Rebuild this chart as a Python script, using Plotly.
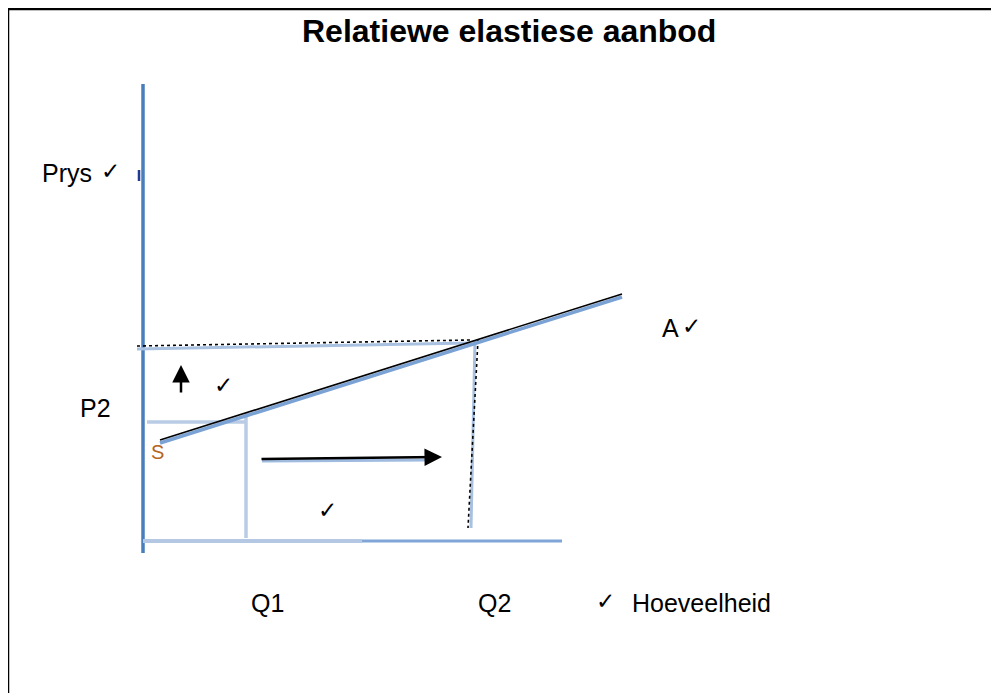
import plotly.graph_objects as go

# Diagram data, in figure-pixel-like units (x to the right, y downward)
supply_x = [160, 622]
supply_y = [440, 294]
p1_line_x = [137, 470]
p1_line_y = [346, 340]
q2_line_x = [478, 468]
q2_line_y = [340, 528]
q1_line_x = [246, 246]
q1_line_y = [413, 538]
p2_line_x = [147, 245]
p2_line_y = [422, 422]
yaxis_x = [143, 143]
yaxis_y = [84, 553]
xaxis_x = [143, 562]
xaxis_y = [541, 541]

labels = ["Prys", "✓", "P2", "S", "A", "✓", "Q1", "Q2", "✓", "Hoeveelheid", "✓", "✓"]
label_x = [40, 99, 78, 149, 660, 680, 249, 476, 594, 630, 212, 316]
label_y = [173, 171, 408, 452, 328, 326, 603, 603, 601, 603, 385, 510]
title = "Relatiewe elastiese aanbod"

BLUE = "#4a7ebb"
LIGHT = "#a9c1e0"
FONT = "Liberation Sans, Arial, DejaVu Sans"
OFF = 8  # page body margin in the browser

fig = go.Figure()

def line(x, y, color, width, dash="solid", dy=0):
    fig.add_trace(go.Scatter(x=x, y=[v + dy for v in y], mode="lines",
                             line=dict(color=color, width=width, dash=dash),
                             hoverinfo="skip", showlegend=False))

# axes
line(yaxis_x, yaxis_y, BLUE, 3.5)
line([139, 139], [170, 181], "#1f3a93", 2.5)
line([xaxis_x[0], 362], xaxis_y, "#b4c7e3", 4)
line([362, xaxis_x[1]], xaxis_y, "#7fa6d6", 3)
# guide lines (blue shadows + black)
line(p1_line_x, p1_line_y, LIGHT, 3, dy=3)
line(p1_line_x, p1_line_y, "black", 1.6, dash="dot")
line([q2_line_x[0] - 3, q2_line_x[1] + 3], q2_line_y, LIGHT, 3)
line(q2_line_x, q2_line_y, "black", 1.6, dash="dot")
line(q1_line_x, q1_line_y, "#b9cbe5", 3.5)
line(p2_line_x, p2_line_y, "#b9cbe5", 3.5)
# supply curve
line(supply_x, supply_y, "#7aa2d4", 3.5, dy=3)
line(supply_x, supply_y, "black", 1.6)
# arrow shadow
line([262, 430], [461, 460], "#9fbbe0", 3)

annotations = []
for t, x, y in zip(labels, label_x, label_y):
    col = "#b5651d" if t == "S" else "black"
    if t == "✓":
        size, fam = 23, "DejaVu Sans"
    elif t == "S":
        size, fam = 20, FONT
    else:
        size, fam = 25, FONT
    annotations.append(dict(x=x, y=y, text=t, xref="x", yref="y", showarrow=False,
                            xanchor="left", yanchor="middle",
                            font=dict(family=fam, size=size, color=col)))
annotations.append(dict(x=509, y=31, text="<b>" + title + "</b>", xref="x", yref="y",
                        showarrow=False, xanchor="center", yanchor="middle",
                        font=dict(family=FONT, size=32, color="black")))
# arrows
annotations.append(dict(x=181, y=365, ax=181, ay=394, xref="x", yref="y", axref="x", ayref="y",
                        text="", showarrow=True, arrowhead=2, arrowsize=1.4, arrowwidth=2.5,
                        arrowcolor="black"))
annotations.append(dict(x=442, y=457, ax=260, ay=459, xref="x", yref="y", axref="x", ayref="y",
                        text="", showarrow=True, arrowhead=2, arrowsize=1.4, arrowwidth=2.5,
                        arrowcolor="black"))

fig.update_layout(
    width=999, height=693,
    margin=dict(l=0, r=0, t=0, b=0),
    paper_bgcolor="white", plot_bgcolor="white",
    xaxis=dict(range=[OFF, 999 + OFF], visible=False, fixedrange=True),
    yaxis=dict(range=[693 + OFF, OFF], visible=False, fixedrange=True),
    annotations=annotations,
    shapes=[
        dict(type="line", xref="x", yref="y", x0=7, x1=1010, y0=9, y1=9,
             line=dict(color="black", width=2.5)),
        dict(type="line", xref="x", yref="y", x0=8, x1=8, y0=8, y1=710,
             line=dict(color="black", width=2.5)),
    ],
)

fig.write_html("out.html")
